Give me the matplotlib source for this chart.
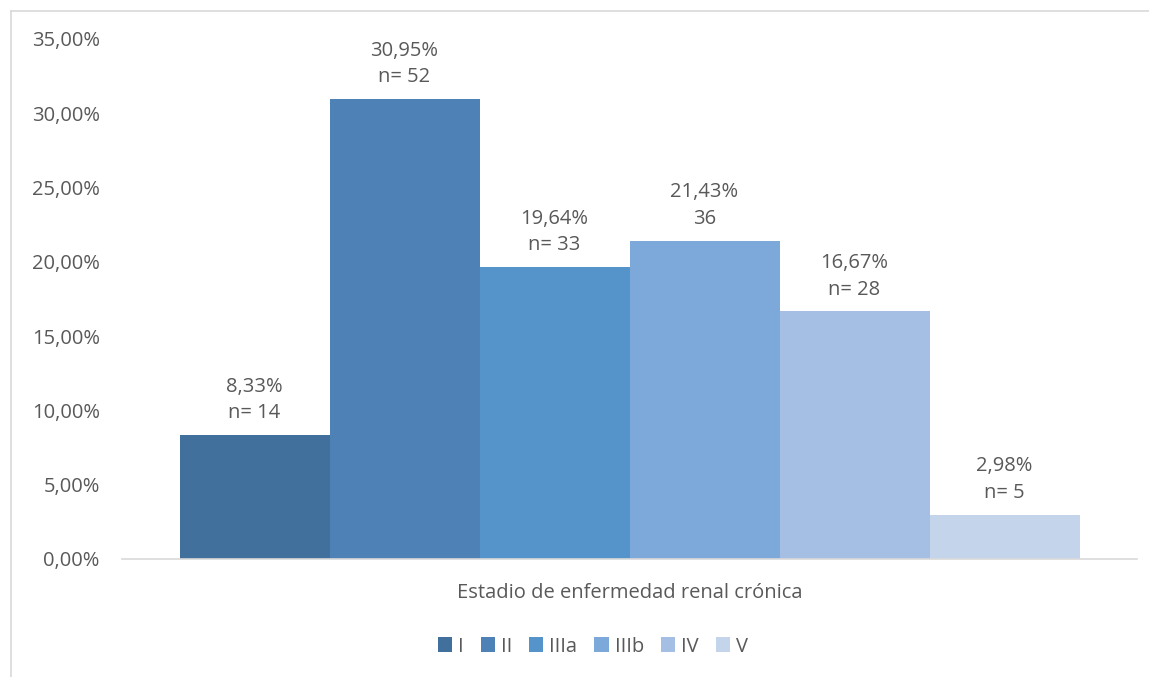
import matplotlib.pyplot as plt
from matplotlib.lines import Line2D
from matplotlib.patches import Patch

stages = ['I', 'II', 'IIIa', 'IIIb', 'IV', 'V']
pct = [8.33, 30.95, 19.64, 21.43, 16.67, 2.98]
counts = [14, 52, 33, 36, 28, 5]
count_prefix = ['n= ', 'n= ', 'n= ', '', 'n= ', 'n= ']
colors = ['#42709C', '#4E82B6', '#5593CB', '#7CA9DA', '#A4BFE3', '#C4D5EB']
yticks = [0, 5, 10, 15, 20, 25, 30, 35]

plt.rcParams['font.family'] = ['Open Sans', 'DejaVu Sans']
txt = '#595959'
fs = 14.5

fig = plt.figure(figsize=(11.49, 6.77), dpi=100)
ax = fig.add_axes([0.1062, 0.1743, 0.8834, 0.7681])

w = 150 / 1015
for i, (s, p, c) in enumerate(zip(stages, pct, colors)):
    x = (i - 2.5) * w
    ax.bar(x, p, width=w, color=c, label=s)
    lbl = '{}%\n{}{}'.format('{:.2f}'.format(p).replace('.', ','), count_prefix[i], counts[i])
    ax.annotate(lbl, (x, p), xytext=(0, 8.5), textcoords='offset points',
                ha='center', va='bottom', fontsize=fs, color=txt, linespacing=1.45)

ax.set_xlim(-0.5, 0.5)
ax.set_ylim(0, 35)
ax.set_yticks(yticks)
ax.set_yticklabels(['{:.2f}%'.format(t).replace('.', ',') for t in yticks], fontsize=fs, color=txt)
ax.set_xticks([])
ax.tick_params(axis='y', length=0, pad=16)
for sp in ['top', 'right', 'left']:
    ax.spines[sp].set_visible(False)
ax.spines['bottom'].set_color('#D9D9D9')
ax.spines['bottom'].set_linewidth(1.2)

ax.set_xlabel('Estadio de enfermedad renal crónica', fontsize=fs, color=txt, labelpad=17)

handles = [Patch(facecolor=c, label=s) for s, c in zip(stages, colors)]
fig.legend(handles=handles, loc='center', bbox_to_anchor=(0.516, 0.045), ncol=6, frameon=False,
           fontsize=fs, labelcolor=txt, handlelength=0.7, handleheight=0.7,
           handletextpad=0.3, columnspacing=0.85)

# outer chart border (top and left edges visible)
fig.add_artist(Line2D([11 / 1149, 1], [1 - 11 / 677, 1 - 11 / 677], color='#D9D9D9', lw=1.2))
fig.add_artist(Line2D([11 / 1149, 11 / 1149], [0, 1 - 11 / 677], color='#D9D9D9', lw=1.2))

fig.savefig('out.png', dpi=100)
